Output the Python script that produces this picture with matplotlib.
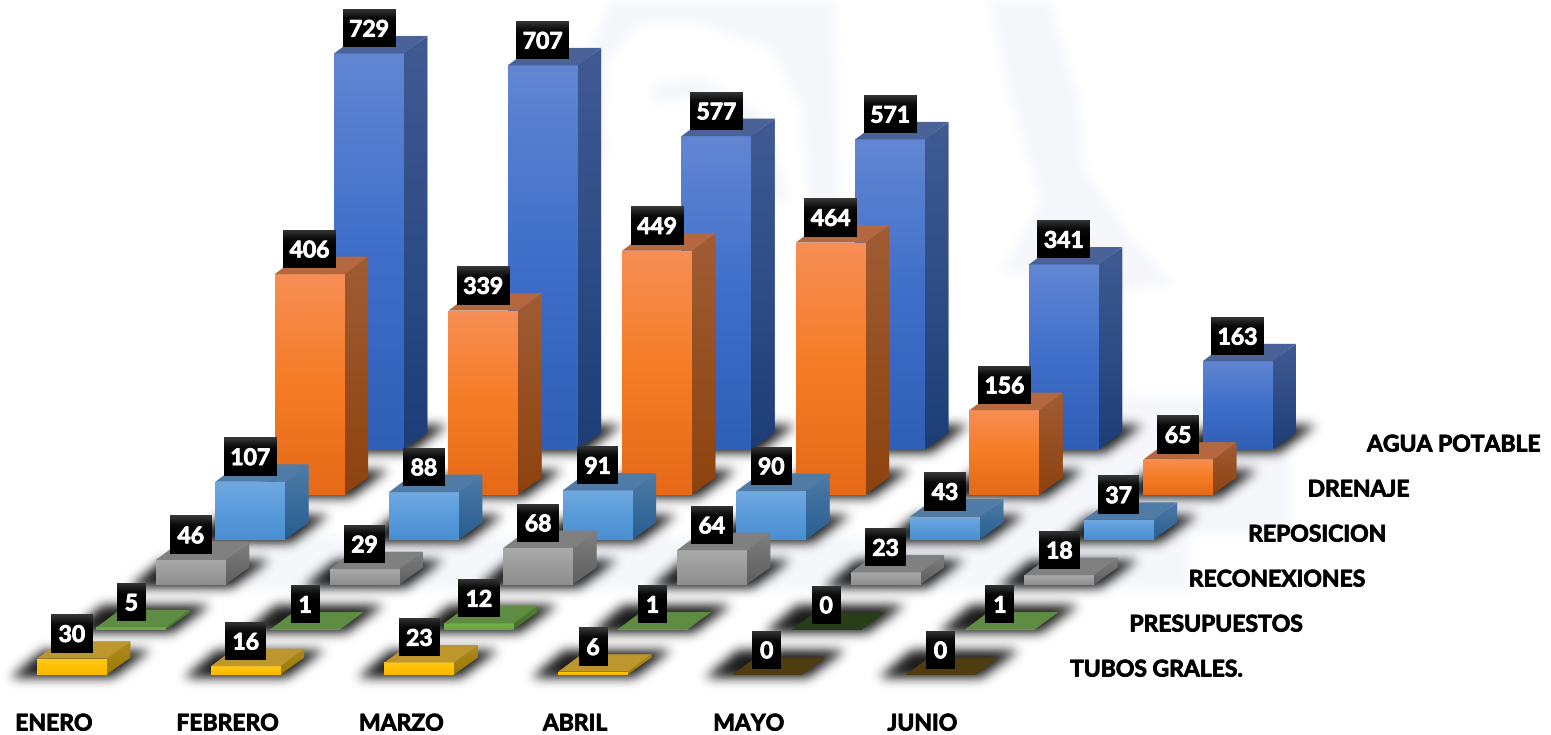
import numpy as np
import matplotlib
matplotlib.use("Agg")
import matplotlib.pyplot as plt
import matplotlib.patheffects as pe
from matplotlib.path import Path
from matplotlib.patches import Polygon
from matplotlib.colors import to_rgb

months = ["ENERO", "FEBRERO", "MARZO", "ABRIL", "MAYO", "JUNIO"]
series_names = ["AGUA POTABLE", "DRENAJE", "REPOSICION", "RECONEXIONES", "PRESUPUESTOS", "TUBOS GRALES."]
agua_potable = [729, 707, 577, 571, 341, 163]
drenaje = [406, 339, 449, 464, 156, 65]
reposicion = [107, 88, 91, 90, 43, 37]
reconexiones = [46, 29, 68, 64, 23, 18]
presupuestos = [5, 1, 12, 1, 0, 1]
tubos = [30, 16, 23, 6, 0, 0]
all_series = [agua_potable, drenaje, reposicion, reconexiones, presupuestos, tubos]

# colours: front top/mid/bottom, side top/bottom, top face, zero-height face
styles = [
    dict(front=["#6286d2", "#3f6fca", "#2f5fb6"], side=["#405b94", "#1e3e78"], top="#4a6298", zero="#263f80"),
    dict(front=["#f78e55", "#f57c24", "#e66a18"], side=["#a05c35", "#8e430e"], top="#b5683f", zero="#7a3f10"),
    dict(front=["#70a9e0", "#5a9bdb", "#4a8fd2"], side=["#4d7ca8", "#285e90"], top="#4f7ba6", zero="#2a4f70"),
    dict(front=["#aaaaaa", "#9c9c9c", "#8e8e8e"], side=["#7f7f7f", "#5e5e5e"], top="#808080", zero="#444444"),
    dict(front=["#74b04a", "#70ad47", "#66a03e"], side=["#4f7f2f", "#44702a"], top="#5f8c43", zero="#263f1a"),
    dict(front=["#ffc91c", "#ffc000", "#f6b800"], side=["#ad8c22", "#9c7a00"], top="#bd962e", zero="#4f3c10"),
]

W, H = 1551, 735
X0, BASE_Y = 334.0, 450.0     # blue January front-left corner, in pixels
STEP = 173.7                  # pixels per month
K = 0.544                     # pixels per unit of value
ROW_DX, ROW_DY = -59.4, 45.0  # shift per series row
BAR_W, DEPTH_X, DEPTH_Y = 70.0, 23.5, 17.5

fig = plt.figure(figsize=(W / 100, H / 100), dpi=100, facecolor="white")
ax = fig.add_axes([0, 0, 1, 1])
ax.axis("off")
xlim = (-X0 / STEP, (W - X0) / STEP)
ylim = ((BASE_Y - H) / K, BASE_Y / K)


def dx(px):
    return px / STEP


def dy(px):
    return px / K


def blur(a, sigma):
    r = int(3 * sigma)
    k = np.exp(-0.5 * (np.arange(-r, r + 1) / sigma) ** 2)
    k /= k.sum()
    a = np.apply_along_axis(lambda m: np.convolve(m, k, mode="same"), 0, a)
    return np.apply_along_axis(lambda m: np.convolve(m, k, mode="same"), 1, a)


def raster(polys_px):
    yy, xx = np.mgrid[0:H, 0:W]
    pts = np.c_[xx.ravel() + 0.5, yy.ravel() + 0.5]
    out = np.zeros(H * W, bool)
    for p in polys_px:
        out |= Path(p).contains_points(pts)
    return out.reshape(H, W).astype(float)


def full_image(rgba, z):
    ax.imshow(rgba, extent=(xlim[0], xlim[1], ylim[0], ylim[1]), origin="upper",
              aspect="auto", interpolation="bilinear", zorder=z)


def grad_poly(verts, colors, z):
    verts = np.array(verts)
    cols = np.array([to_rgb(c) for c in colors])
    t = np.linspace(0, 1, 64)
    grid = np.linspace(0, 1, len(cols))
    arr = np.stack([np.interp(t, grid, cols[:, i]) for i in range(3)], 1)[:, None, :]
    l, r, b, tp = verts[:, 0].min(), verts[:, 0].max(), verts[:, 1].min(), verts[:, 1].max()
    im = ax.imshow(arr, extent=(l, r, b, tp), origin="upper", aspect="auto",
                   interpolation="bilinear", zorder=z)
    clip = Polygon(verts, closed=True, transform=ax.transData, fc="none", ec="none")
    ax.add_patch(clip)
    im.set_clip_path(clip)


# faint watermark background
bg = raster([
    [(250, 535), (1190, 535), (1190, 590), (250, 590)],
    [(1000, 395), (1290, 395), (1290, 535), (1000, 535)],
    [(610, 0), (835, 0), (842, 250), (812, 250), (800, 110), (770, 50), (700, 25), (640, 25),
     (610, 60), (602, 130), (612, 155), (590, 150), (585, 60)],
    [(650, 85), (700, 75), (760, 110), (790, 200), (770, 200), (740, 130), (690, 100), (655, 105)],
    [(988, 0), (1050, 0), (1080, 100), (1085, 170), (1100, 190), (1135, 240), (1175, 285),
     (1120, 292), (1000, 272), (1040, 200), (1010, 100)],
])
bg = blur(bg, 4) * 0.08
rgba = np.zeros((H, W, 4))
rgba[..., :3] = (0.55, 0.65, 0.85)
rgba[..., 3] = bg
full_image(rgba, 0)

z = 1
for row, (vals, st) in enumerate(zip(all_series, styles)):
    ox = ROW_DX * row
    oy = ROW_DY * row
    # soft shadow of this row, painted over rows behind it
    polys = []
    for m in range(len(months)):
        x = X0 + STEP * m + ox
        y = BASE_Y + oy
        polys.append([(x - 27, y + 3), (x + BAR_W + 6, y + 3), (x + BAR_W + 44, y - 25), (x + 6, y - 25)])
    sh = blur(raster(polys), 5.5) * 0.9
    rgba = np.zeros((H, W, 4))
    rgba[..., 3] = sh
    full_image(rgba, z)
    z += 1
    for m, v in enumerate(vals):
        l = m + dx(ox)
        r = l + dx(BAR_W)
        y0 = -dy(oy)
        y1 = y0 + v
        ddx, ddy = dx(DEPTH_X), dy(DEPTH_Y)
        if v > 0:
            grad_poly([(r - dx(1), y0), (r + ddx, y0 + ddy), (r + ddx, y1 + ddy), (r - dx(1), y1)], st["side"], z)
            grad_poly([(l, y0), (r, y0), (r, y1), (l, y1)], st["front"], z + 1)
        top_col = st["top"] if v > 0 else st["zero"]
        ax.add_patch(Polygon([(l, y1), (r, y1), (r + ddx, y1 + ddy), (l + ddx, y1 + ddy)],
                             closed=True, fc=top_col, ec="none", zorder=z + 1))
        z += 2

white_fx = [pe.withStroke(linewidth=0.6, foreground="white")]
black_fx = [pe.withStroke(linewidth=0.6, foreground="black")]

# data labels drawn over all bars
for row, vals in enumerate(all_series):
    ox = ROW_DX * row
    oy = ROW_DY * row
    for m, v in enumerate(vals):
        cx = m + dx(ox + BAR_W / 2)
        bot = v - dy(oy) + dy(6.0)
        n = len(str(v))
        bw = dx({1: 29, 2: 41.5, 3: 53}[n])
        bh = dy(38.5)
        grad_poly([(cx - bw / 2, bot), (cx + bw / 2, bot), (cx + bw / 2, bot + bh), (cx - bw / 2, bot + bh)],
                  ["#3a3a3a", "#0a0a0a", "#000000", "#000000", "#000000"], z)
        ax.text(cx, bot + bh / 2, str(v), color="white", ha="center", va="center_baseline",
                fontsize=16.5, fontweight="bold", family="Lato", zorder=z + 1, path_effects=white_fx)
        z += 2

for m, name in enumerate(months):
    ax.text(m + dx(-280), dy(BASE_Y - 724), name, ha="center", va="center",
            fontsize=16.5, fontweight="bold", family="Lato", color="black", zorder=z, path_effects=black_fx)

for row, name in enumerate(series_names):
    ax.text(dx(1367 - X0 + ROW_DX * row), dy(BASE_Y - 445 - ROW_DY * row), name, ha="left", va="center",
            fontsize=16.5, fontweight="bold", family="Lato", color="black", zorder=z, path_effects=black_fx)

ax.set_xlim(*xlim)
ax.set_ylim(*ylim)
fig.savefig("out.png", dpi=100, facecolor="white")
